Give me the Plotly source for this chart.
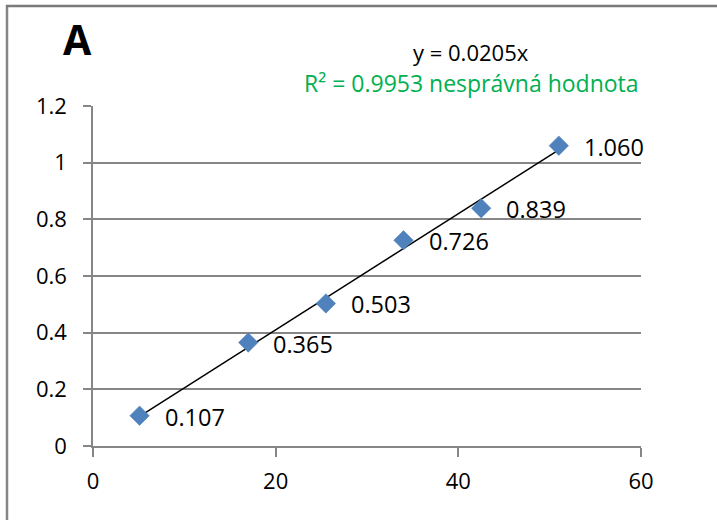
import plotly.graph_objects as go

# Data
x_vals = [5.1, 17.0, 25.5, 34.0, 42.5, 51.0]
y_vals = [0.107, 0.365, 0.503, 0.726, 0.839, 1.060]
slope = 0.0205
trend_label = "y = 0.0205x"
r2_label = "R² = 0.9953 nesprávná hodnota"
panel_label = "A"

W, H = 717, 520
L, R, T, B = 93, 76, 106, 74
PW, PH = W - L - R, H - T - B


def px_x(p):
    return (p - L) / PW


def px_y(p):
    return (H - B - p) / PH


FONT = "Open Sans, Liberation Sans, sans-serif"
GRID = "#868686"

fig = go.Figure()

# trendline across data range
tx = [min(x_vals), max(x_vals)]
ty = [slope * v for v in tx]
fig.add_trace(go.Scatter(x=tx, y=ty, mode="lines",
                         line=dict(color="black", width=1.5),
                         hoverinfo="skip", showlegend=False))

fig.add_trace(go.Scatter(x=x_vals, y=y_vals, mode="markers",
                         marker=dict(symbol="diamond", size=15, color="#4F81BD",
                                     line=dict(color="#4A7EBB", width=0.5)),
                         showlegend=False))

annotations = []
for xv, yv in zip(x_vals, y_vals):
    annotations.append(dict(x=xv, y=yv, xref="x", yref="y", text=f"{yv:.3f}",
                            showarrow=False, xanchor="left", yanchor="middle",
                            xshift=23, yshift=-1,
                            font=dict(family=FONT, size=23.5, color="black")))

annotations.append(dict(x=px_x(77.5), y=px_y(39), xref="paper", yref="paper",
                        text=f"<b>{panel_label}</b>", showarrow=False,
                        xanchor="center", yanchor="middle",
                        font=dict(family=FONT, size=41, color="black")))
annotations.append(dict(x=px_x(471), y=px_y(52), xref="paper", yref="paper",
                        text=trend_label, showarrow=False,
                        xanchor="center", yanchor="middle",
                        font=dict(family=FONT, size=22, color="black")))
annotations.append(dict(x=px_x(641), y=px_y(83), xref="paper", yref="paper",
                        text=r2_label, showarrow=False,
                        xanchor="right", yanchor="middle",
                        font=dict(family=FONT, size=23, color="#00B050")))

shapes = [
    dict(type="line", xref="paper", yref="paper", x0=px_x(7), x1=px_x(7),
         y0=px_y(5), y1=px_y(560), line=dict(color=GRID, width=2.5),
         layer="above"),
    dict(type="line", xref="paper", yref="paper", x0=px_x(6), x1=px_x(717),
         y0=px_y(6), y1=px_y(6), line=dict(color="#7a7a7a", width=2.5),
         layer="above"),
]

fig.update_layout(
    width=W, height=H,
    margin=dict(l=L, r=R, t=T, b=B, pad=0),
    paper_bgcolor="white", plot_bgcolor="white",
    font=dict(family=FONT, size=22, color="black"),
    annotations=annotations, shapes=shapes,
    showlegend=False,
)
fig.update_xaxes(range=[0, 60], dtick=20, tick0=0, showgrid=False,
                 showline=True, linecolor=GRID, linewidth=1.5,
                 ticks="outside", ticklen=9, tickcolor=GRID, tickwidth=1.5,
                 zeroline=False, ticklabelstandoff=6,
                 tickfont=dict(family=FONT, size=22, color="black"))
fig.update_yaxes(range=[0, 1.2], dtick=0.2, tick0=0, showgrid=True,
                 gridcolor=GRID, gridwidth=1.5,
                 showline=True, linecolor=GRID, linewidth=1.5,
                 ticks="outside", ticklen=8, tickcolor=GRID, tickwidth=1.5,
                 zeroline=False, ticklabelstandoff=12,
                 tickfont=dict(family=FONT, size=22, color="black"))

fig.write_html("out.html", config={"displayModeBar": False},
               post_script="document.body.style.margin='0';document.body.style.overflow='hidden';")
